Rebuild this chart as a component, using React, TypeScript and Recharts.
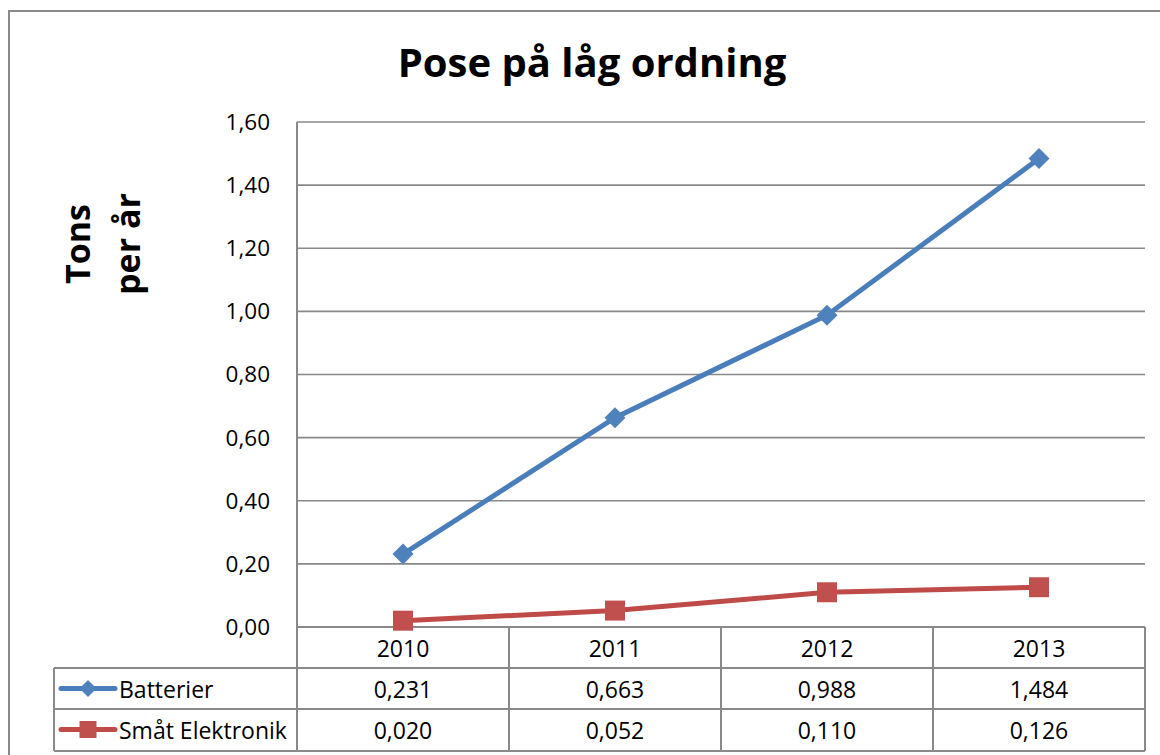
import React from "react";
import { LineChart, Line, XAxis, YAxis, CartesianGrid } from "recharts";

const years = ["2010", "2011", "2012", "2013"];
const batterier = [0.231, 0.663, 0.988, 1.484];
const smatElektronik = [0.02, 0.052, 0.11, 0.126];
const yTicks = [0, 0.2, 0.4, 0.6, 0.8, 1.0, 1.2, 1.4, 1.6];

const seriesNames = ["Batterier", "Småt Elektronik"];

const data = years.map((year, i) => ({
  year,
  batterier: batterier[i],
  smat: smatElektronik[i],
}));

const W = 1160;
const H = 755;
const Y_AXIS_W = 297;
const MARGIN = { top: 122, right: 15, bottom: 0, left: 0 };
const TABLE_H = 128;
const ROW = 41;
const TABLE_LEFT = 54;

const GRAY = "#898989";
const BLUE_LINE = "#4a7ebb";
const BLUE = "#4f81bd";
const RED_LINE = "#be4b48";
const RED = "#c0504d";
const FONT = "'Open Sans', sans-serif";

const band = (W - Y_AXIS_W - MARGIN.right) / years.length;
const fmt2 = (v: number) => v.toFixed(2).replace(".", ",");
const fmt3 = (v: number) => v.toFixed(3).replace(".", ",");

function Diamond({ cx, cy, r, fill }: { cx: number; cy: number; r: number; fill: string }) {
  return <path d={`M${cx},${cy - r}L${cx + r},${cy}L${cx},${cy + r}L${cx - r},${cy}Z`} fill={fill} />;
}

function Square({ cx, cy, s, fill }: { cx: number; cy: number; s: number; fill: string }) {
  return <rect x={cx - s / 2} y={cy - s / 2} width={s} height={s} fill={fill} />;
}

// x axis ticks draw the data table underneath the plot
function TableTick(props: any) {
  const { x, y, payload, index } = props;
  const L = x - band / 2;
  const R = x + band / 2;
  const textProps = {
    fontFamily: FONT,
    fontSize: 23,
    fill: "#000",
    textAnchor: "middle" as const,
    dominantBaseline: "central" as const,
  };
  const rows = [
    { name: seriesNames[0], values: batterier },
    { name: seriesNames[1], values: smatElektronik },
  ];
  return (
    <g>
      <line x1={R} x2={R} y1={y} y2={y + 3 * ROW + 1} stroke={GRAY} strokeWidth={2} />
      {[1, 2, 3].map((k) => (
        <line key={k} x1={L} x2={R} y1={y + k * ROW + (k === 3 ? 1 : 0)} y2={y + k * ROW + (k === 3 ? 1 : 0)} stroke={GRAY} strokeWidth={2} />
      ))}
      <text x={x} y={y + ROW / 2} {...textProps}>{payload.value}</text>
      {rows.map((r, k) => (
        <text key={k} x={x} y={y + ROW * (k + 1.5)} {...textProps}>{fmt3(r.values[index])}</text>
      ))}
      {index === 0 && (
        <g>
          <line x1={L} x2={L} y1={y} y2={y + 3 * ROW + 1} stroke={GRAY} strokeWidth={2} />
          <line x1={TABLE_LEFT} x2={TABLE_LEFT} y1={y + ROW} y2={y + 3 * ROW + 1} stroke={GRAY} strokeWidth={2} />
          {[1, 2, 3].map((k) => (
            <line key={k} x1={TABLE_LEFT} x2={L} y1={y + k * ROW + (k === 3 ? 1 : 0)} y2={y + k * ROW + (k === 3 ? 1 : 0)} stroke={GRAY} strokeWidth={2} />
          ))}
          {rows.map((r, k) => {
            const cy = y + ROW * (k + 1.5);
            return (
              <g key={k}>
                <line x1={61} x2={115} y1={cy} y2={cy} stroke={k === 0 ? BLUE_LINE : RED_LINE} strokeWidth={5} strokeLinecap="round" />
                {k === 0 ? <Diamond cx={88} cy={cy} r={8.5} fill={BLUE} /> : <Square cx={88} cy={cy} s={17} fill={RED} />}
                <text x={119} y={cy} {...textProps} textAnchor="start">{r.name}</text>
              </g>
            );
          })}
        </g>
      )}
    </g>
  );
}

function YLabel() {
  return (
    <g fontFamily={FONT} fontWeight="bold" fontSize={34} fill="#000">
      <text x={90} y={244} textAnchor="middle" transform="rotate(-90 90 244)">Tons</text>
      <text x={140} y={244} textAnchor="middle" transform="rotate(-90 140 244)">per år</text>
    </g>
  );
}

export default function App() {
  return (
    <div style={{ position: "absolute", left: 0, top: 0, width: W, height: H, overflow: "hidden", background: "#fff" }}>
      <div
        style={{
          position: "absolute",
          left: 8,
          top: 10,
          width: W + 20,
          height: H + 20,
          borderLeft: `2px solid ${GRAY}`,
          borderTop: `2px solid ${GRAY}`,
        }}
      />
      <div
        style={{
          position: "absolute",
          left: 0,
          top: 45,
          width: 1184,
          textAlign: "center",
          fontFamily: FONT,
          fontWeight: "bold",
          fontSize: 40,
          lineHeight: "34px",
          color: "#000",
        }}
      >
        Pose på låg ordning
      </div>
      <div style={{ position: "absolute", left: 0, top: 0 }}>
        <LineChart width={W} height={H} data={data} margin={MARGIN}>
          <CartesianGrid horizontal vertical={false} stroke={GRAY} strokeWidth={1.6} />
          <XAxis
            dataKey="year"
            scale="band"
            height={TABLE_H}
            axisLine={{ stroke: GRAY, strokeWidth: 2 }}
            tickLine={false}
            tickSize={0}
            tickMargin={0}
            interval={0}
            tick={<TableTick />}
          />
          <YAxis
            width={Y_AXIS_W}
            domain={[0, 1.6]}
            ticks={yTicks}
            tickFormatter={fmt2}
            axisLine={{ stroke: GRAY, strokeWidth: 2 }}
            tickLine={false}
            tickSize={0}
            tickMargin={27}
            tick={{ fontFamily: FONT, fontSize: 22.5, fill: "#000" }}
            label={{ content: () => <YLabel /> }}
          />
          <Line
            type="linear"
            dataKey="batterier"
            stroke={BLUE_LINE}
            strokeWidth={5}
            isAnimationActive={false}
            dot={(p: any) => <Diamond key={p.index} cx={p.cx} cy={p.cy} r={10.5} fill={BLUE} />}
          />
          <Line
            type="linear"
            dataKey="smat"
            stroke={RED_LINE}
            strokeWidth={5}
            isAnimationActive={false}
            dot={(p: any) => <Square key={p.index} cx={p.cx} cy={p.cy} s={20} fill={RED} />}
          />
        </LineChart>
      </div>
    </div>
  );
}
